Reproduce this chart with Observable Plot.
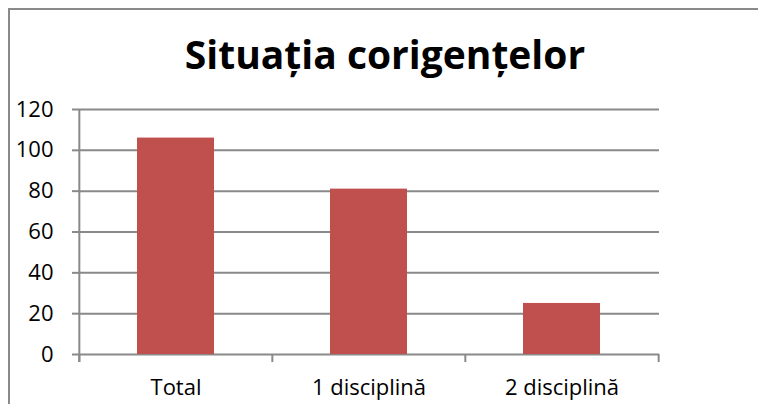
<!DOCTYPE html>
<html>
<head>
<meta charset="utf-8">
<script src="https://cdn.jsdelivr.net/npm/d3@7"></script>
<script src="https://cdn.jsdelivr.net/npm/@observablehq/plot@0.6"></script>
<style>
  html, body { margin: 0; padding: 0; background: #fff; }
  #wrap { position: relative; width: 758px; height: 404px; overflow: hidden; font-family: "Open Sans", sans-serif; }
  #border { position: absolute; left: 8px; top: 8px; width: 800px; height: 500px; border-left: 2px solid #8a8a8a; border-top: 2px solid #8a8a8a; box-sizing: border-box; }
  #title { position: absolute; left: 0; width: 770px; top: 34px; text-align: center; font-family: "Open Sans", sans-serif; font-weight: 700; font-size: 39px; line-height: 39px; color: #000; white-space: nowrap; }
  #chart { position: absolute; left: 0; top: 0; }
</style>
</head>
<body>
<div id="wrap">
  <div id="chart"></div>
  <div id="border"></div>
  <div id="title">Situația corigențelor</div>
</div>
<script>
const categories = ["Total", "1 disciplină", "2 disciplină"];
const values = [106, 81, 25];
const yTicks = [0, 20, 40, 60, 80, 100, 120];

const data = categories.map((c, i) => ({category: c, value: values[i]}));

const W = 758, H = 404, mL = 79, mR = 99, mT = 109, mB = 50;
const pInner = 0.6, pOuter = 0.3;
const step = (W - mL - mR) / (categories.length - pInner + 2 * pOuter);
const grid = "#898989";

const chart = Plot.plot({
  width: W,
  height: H,
  marginLeft: mL,
  marginRight: mR,
  marginTop: mT,
  marginBottom: mB,
  style: {background: "transparent", fontFamily: "Open Sans, sans-serif", overflow: "visible"},
  x: {domain: categories, paddingInner: pInner, paddingOuter: pOuter, label: null},
  y: {domain: [0, 120], label: null},
  marks: [
    Plot.ruleY(yTicks, {y: d => d, stroke: grid, strokeWidth: 2}),
    Plot.barY(data, {x: "category", y: "value", fill: "#C0504D"}),
    Plot.ruleX([categories[0]], {x: d => d, dx: -step / 2, y1: 120, y2: 0, insetBottom: -8, stroke: grid, strokeWidth: 2}),
    Plot.ruleX(categories, {x: d => d, dx: -step / 2, y1: 0, y2: 0, insetBottom: -8, stroke: grid, strokeWidth: 2}),
    Plot.ruleX([categories[categories.length - 1]], {x: d => d, dx: step / 2, y1: 0, y2: 0, insetBottom: -8, stroke: grid, strokeWidth: 2}),
    Plot.axisY({ticks: yTicks, tickSize: 7, tickPadding: 19, stroke: grid, strokeWidth: 2, fill: "#000", fontSize: 22, label: null}),
    Plot.axisX({tickSize: 0, tickPadding: 25, fill: "#000", fontSize: 22, label: null})
  ]
});
document.getElementById("chart").appendChild(chart);
</script>
</body>
</html>
